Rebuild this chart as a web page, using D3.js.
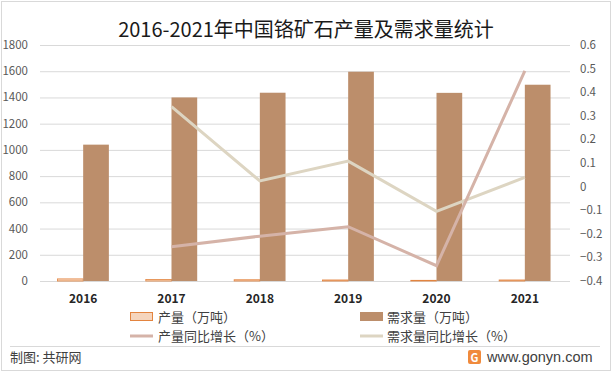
<!DOCTYPE html>
<html>
<head>
<meta charset="utf-8">
<script src="https://cdn.jsdelivr.net/npm/d3@7"></script>
<style>
  body { margin: 0; background: #fff; }
  svg text { font-family: "Noto Sans CJK SC", "Microsoft YaHei", sans-serif; }
</style>
</head>
<body>
<div id="chart"></div>
<script>
const years = ['2016', '2017', '2018', '2019', '2020', '2021'];
const production = [16, 12, 9.5, 7.9, 5.2, 7.8];          // 万吨
const demand = [1040, 1400, 1436, 1596, 1435, 1497];      // 万吨
const productionGrowth = [null, -0.255, -0.21, -0.17, -0.335, 0.49];
const demandGrowth = [null, 0.339, 0.024, 0.108, -0.105, 0.039];
const leftTicks = [0, 200, 400, 600, 800, 1000, 1200, 1400, 1600, 1800];
const rightTicks = [-0.4, -0.3, -0.2, -0.1, 0, 0.1, 0.2, 0.3, 0.4, 0.5, 0.6];

const width = 612, height = 372;
const plot = { left: 39, right: 569, top: 45, bottom: 281 };

const svg = d3.select('#chart').append('svg')
  .attr('width', width)
  .attr('height', height);

// outer frame
svg.append('rect')
  .attr('x', 1.5).attr('y', 1.5)
  .attr('width', width - 3).attr('height', height - 3)
  .attr('fill', 'none').attr('stroke', '#d9d9d9');

svg.append('text')
  .attr('x', 306).attr('y', 37)
  .attr('text-anchor', 'middle')
  .style('font-size', '20px')
  .style('fill', '#1a1a1a')
  .text('2016-2021年中国铬矿石产量及需求量统计');

const x = d3.scaleBand().domain(years).range([plot.left, plot.right]);
const yL = d3.scaleLinear().domain([0, 1800]).range([plot.bottom, plot.top]);
const yR = d3.scaleLinear().domain([-0.4, 0.6]).range([plot.bottom, plot.top]);
const barW = 25.7;

// gridlines
svg.append('g').selectAll('line').data(leftTicks).join('line')
  .attr('x1', plot.left + 1).attr('x2', plot.right + 1)
  .attr('y1', d => yL(d) + 0.5).attr('y2', d => yL(d) + 0.5)
  .attr('stroke', '#d9d9d9');

// left axis labels
svg.append('g').selectAll('text').data(leftTicks).join('text')
  .attr('x', 28).attr('y', d => yL(d) + 4)
  .attr('text-anchor', 'end')
  .style('font-size', '11.5px').style('fill', '#595959')
  .text(d => d);

// right axis labels
svg.append('g').selectAll('text').data(rightTicks).join('text')
  .attr('x', 580).attr('y', d => yR(d) + 4)
  .style('font-size', '11.5px').style('fill', '#595959')
  .text(d => d3.format('')(+d.toFixed(1)));

// production bars
svg.append('g').selectAll('rect').data(production).join('rect')
  .attr('x', (d, i) => x(years[i]) + x.bandwidth() / 2 - barW)
  .attr('y', d => yL(d))
  .attr('width', barW)
  .attr('height', d => plot.bottom - yL(d))
  .attr('fill', '#f5d5bd')
  .attr('stroke', '#e3843f')
  .attr('stroke-width', 0.8);

// demand bars
svg.append('g').selectAll('rect').data(demand).join('rect')
  .attr('x', (d, i) => x(years[i]) + x.bandwidth() / 2)
  .attr('y', d => yL(d))
  .attr('width', barW)
  .attr('height', d => plot.bottom - yL(d))
  .attr('fill', '#bc8e6b');

const line = d3.line()
  .defined(d => d.v !== null)
  .x(d => x(d.year) + x.bandwidth() / 2)
  .y(d => yR(d.v));

svg.append('path')
  .datum(years.map((year, i) => ({ year, v: demandGrowth[i] })))
  .attr('d', line)
  .attr('fill', 'none').attr('stroke', '#ddd5c2').attr('stroke-width', 3);

svg.append('path')
  .datum(years.map((year, i) => ({ year, v: productionGrowth[i] })))
  .attr('d', line)
  .attr('fill', 'none').attr('stroke', '#d5b3a8').attr('stroke-width', 3);

// x labels
svg.append('g').selectAll('text').data(years).join('text')
  .attr('x', d => x(d) + x.bandwidth() / 2).attr('y', 303)
  .attr('text-anchor', 'middle')
  .style('font-size', '12px').style('font-weight', 'bold').style('fill', '#262626')
  .text(d => d);

// legend
const legend = svg.append('g').style('font-size', '13px').style('fill', '#404040');
legend.append('rect').attr('x', 130.5).attr('y', 312.5).attr('width', 22).attr('height', 8)
  .attr('fill', '#f5d5bd').attr('stroke', '#e3843f');
legend.append('text').attr('x', 158).attr('y', 322).text('产量（万吨）');
legend.append('rect').attr('x', 360).attr('y', 312).attr('width', 23).attr('height', 9)
  .attr('fill', '#bc8e6b');
legend.append('text').attr('x', 387).attr('y', 322).text('需求量（万吨）');
legend.append('line').attr('x1', 130).attr('x2', 153).attr('y1', 336).attr('y2', 336)
  .attr('stroke', '#d5b3a8').attr('stroke-width', 3);
legend.append('text').attr('x', 158).attr('y', 341).text('产量同比增长（%）');
legend.append('line').attr('x1', 360).attr('x2', 383).attr('y1', 336).attr('y2', 336)
  .attr('stroke', '#ddd5c2').attr('stroke-width', 3);
legend.append('text').attr('x', 387).attr('y', 341).text('需求量同比增长（%）');

// footer
svg.append('line').attr('x1', 10).attr('x2', 600).attr('y1', 346.5).attr('y2', 346.5)
  .attr('stroke', '#d9d9d9');
svg.append('text').attr('x', 10).attr('y', 362)
  .style('font-size', '13px').style('fill', '#404040')
  .text('制图: 共研网');
const logo = svg.append('g').attr('transform', 'translate(468,350)');
logo.append('rect').attr('width', 13).attr('height', 14).attr('rx', 2).attr('fill', '#f08a3c');
logo.append('text').attr('x', 6.5).attr('y', 11.5).attr('text-anchor', 'middle')
  .style('font-size', '11px').style('font-weight', 'bold').style('fill', '#fff').text('G');
svg.append('text').attr('x', 487).attr('y', 362)
  .style('font-size', '14.5px').style('fill', '#404040')
  .style('font-family', '"Liberation Sans", Arial, sans-serif')
  .text('www.gonyn.com');
</script>
</body>
</html>
